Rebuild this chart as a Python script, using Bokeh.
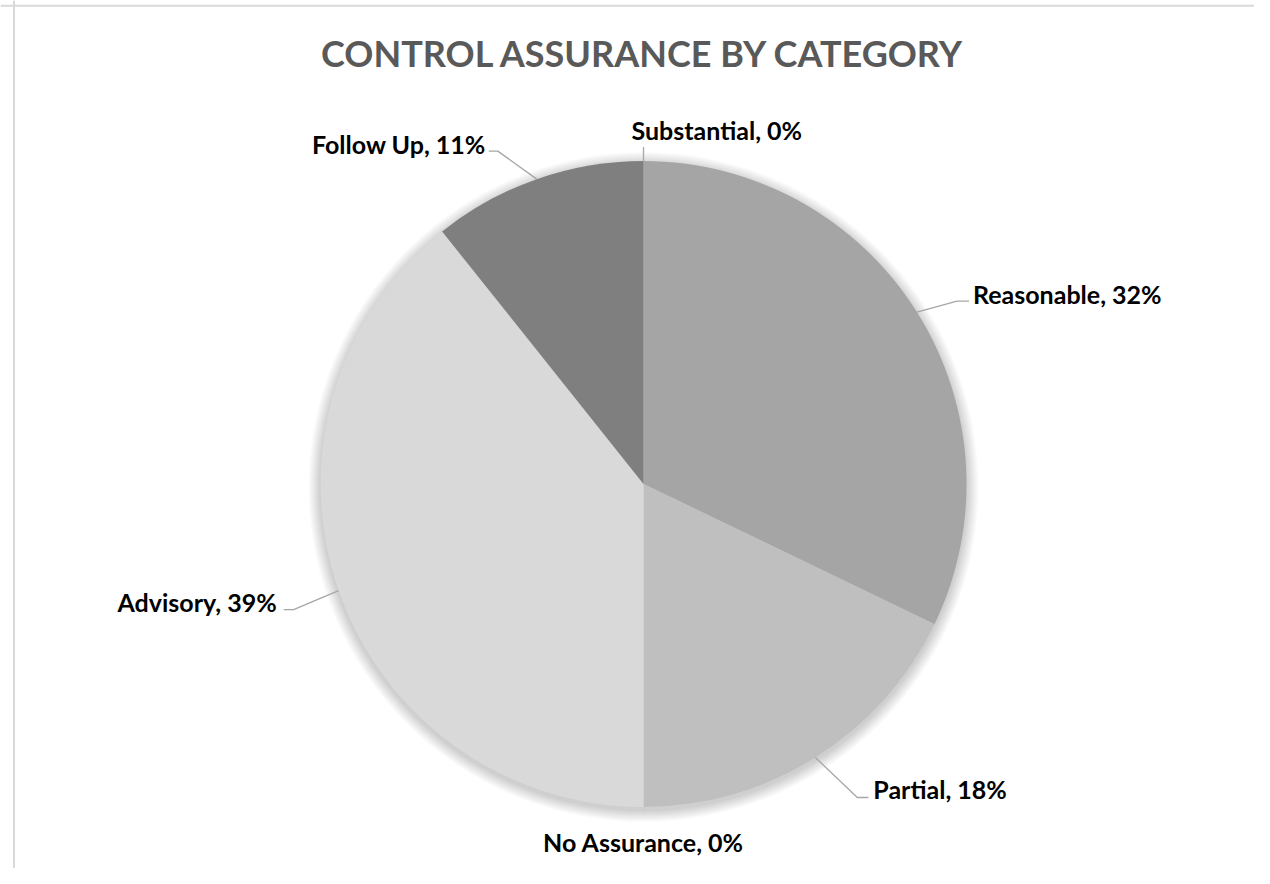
import math
from bokeh.plotting import figure
from bokeh.models import Range1d, Span, ColumnDataSource
from bokeh.core.properties import value
from bokeh.embed import file_html
from bokeh.resources import INLINE

# ---- data ----
categories = ["Substantial", "Reasonable", "Partial", "No Assurance", "Advisory", "Follow Up"]
counts = [0, 9, 5, 0, 11, 3]
colors = ["#595959", "#a5a5a5", "#bfbfbf", "#8c8c8c", "#d9d9d9", "#7f7f7f"]
title_text = "CONTROL ASSURANCE BY CATEGORY"

# ---- layout (screen pixels: dx right, dy down, relative to slice edge point) ----
label_layout = {
    "Substantial":  dict(elbow=(0, -14), end=(0, -14), text=(-12, -31), align="left", line=True),
    "Reasonable":   dict(elbow=(40, -11), end=(52, -11), text=(56, -18), align="left", line=True),
    "Partial":      dict(elbow=(42, 40), end=(53, 40), text=(58, 32), align="left", line=True),
    "No Assurance": dict(elbow=(0, 0), end=(0, 0), text=(0, 35), align="center", line=False),
    "Advisory":     dict(elbow=(-45, 19), end=(-55, 19), text=(-62, 11), align="right", line=True),
    "Follow Up":    dict(elbow=(-39, -28), end=(-48, -28), text=(-51, -35), align="right", line=True),
}

W, H = 1254, 868


def px(xp):
    return xp


def py(yp):
    return H + 1.5 - yp


p = figure(width=W, height=H, x_range=Range1d(0, W), y_range=Range1d(0, H),
           output_backend="svg", toolbar_location=None, min_border=0,
           x_axis_type=None, y_axis_type=None)
p.grid.visible = False
p.outline_line_color = None
p.background_fill_color = "white"
p.border_fill_color = "white"

cx, cy, R = px(643), py(485), 323
total = sum(counts)

# soft shadow
for k in range(12, 0, -1):
    p.circle(x=[cx], y=[cy - 3], radius=R + k, fill_color="black", fill_alpha=0.014, line_color=None)

starts, ends, cols, mids = [], [], [], []
cum = 0.0
for c, v, col in zip(categories, counts, colors):
    f0 = cum / total
    cum += v
    f1 = cum / total
    mids.append((f0 + f1) / 2)
    if v > 0:
        starts.append(math.pi / 2 - f1 * 2 * math.pi)
        ends.append(math.pi / 2 - f0 * 2 * math.pi)
        cols.append(col)

src = ColumnDataSource(dict(x=[cx] * len(starts), y=[cy] * len(starts),
                            s=starts, e=ends, c=cols))
p.wedge(x="x", y="y", radius=R, start_angle="s", end_angle="e",
        fill_color="c", line_color=None, source=src)

# labels
for cat, v, m in zip(categories, counts, mids):
    ang = m * 2 * math.pi
    ex = cx + R * math.sin(ang)
    ey = cy + R * math.cos(ang)
    lay = label_layout[cat]
    if lay["line"]:
        xs = [ex, ex + lay["elbow"][0], ex + lay["end"][0]]
        ys = [ey, ey - lay["elbow"][1], ey - lay["end"][1]]
        p.line(xs, ys, line_color="#a6a6a6", line_width=1.3)
    pct = round(v / total * 100)
    p.text(x=[ex + lay["text"][0]], y=[ey - lay["text"][1]], text=[f"{cat}, {pct}%"],
           text_font=value("Lato"), text_font_style="bold", text_font_size="25px",
           text_color="#000000", text_align=lay["align"], text_baseline="middle")

# title
p.text(x=[px(643)], y=[py(53.5)], text=[title_text], text_font=value("Lato"),
       text_font_style="bold", text_font_size="36px", text_color="#595959",
       text_align="center", text_baseline="middle")

# chart-area border (left and top edges visible in window)
p.add_layout(Span(location=px(13.5), dimension="height", line_color="#d9d9d9", line_width=2))
p.add_layout(Span(location=py(6.7), dimension="width", line_color="#d9d9d9", line_width=2))

open("out.html", "w").write(file_html(p, INLINE))
